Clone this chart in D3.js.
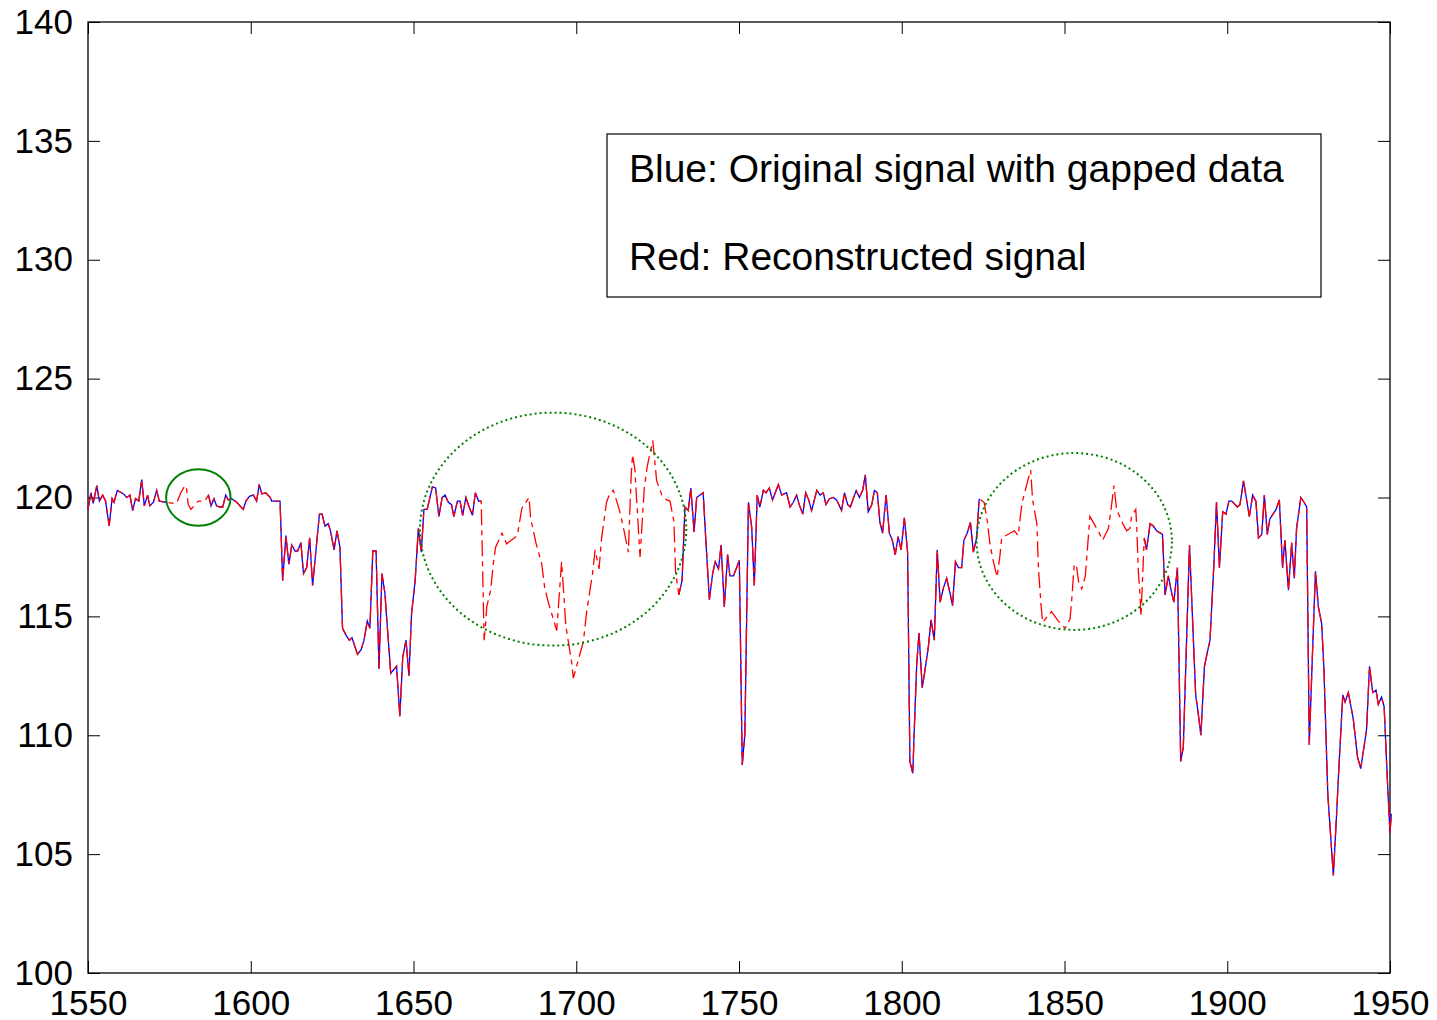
<!DOCTYPE html>
<html lang="en">
<head>
<meta charset="utf-8">
<title>Gapped signal reconstruction</title>
<script src="https://cdn.jsdelivr.net/npm/d3@7"></script>
<style>
    body { margin: 0; background: #fff; }
    text { font-family: "Liberation Sans", Arial, sans-serif; fill: #000; }
    .tick text { font-size: 35px; }
    .legend text { font-size: 39px; }
</style>
</head>
<body>
<script>

// original signal, null marks the gapped stretches
var obsYears = [
    1550.0, 1550.9, 1551.6, 1552.7, 1553.5, 1554.5, 1555.4, 1556.5, 1557.4, 1558.0,
    1559.0, 1560.9, 1561.9, 1562.9, 1563.7, 1564.6, 1565.6, 1566.5, 1567.3, 1568.3,
    1569.0, 1570.1, 1571.1, 1571.9, 1574.0, 1580.0,
    1587.0, 1587.8, 1588.7, 1589.5, 1590.5, 1591.4, 1592.3, 1593.1, 1594.1, 1595.7,
    1597.7, 1598.5, 1599.6, 1600.8, 1601.8, 1602.6, 1603.4, 1604.6, 1606.0, 1606.4,
    1609.0, 1609.8, 1610.8, 1611.7, 1612.6, 1613.6, 1614.4, 1615.4, 1616.2, 1617.2,
    1618.1, 1619.0, 1621.1, 1621.9, 1622.8, 1623.8, 1624.5, 1625.6, 1626.5, 1627.4,
    1628.2, 1629.3, 1630.3, 1631.1, 1632.8, 1633.9, 1634.8, 1635.8, 1636.6, 1637.5,
    1638.5, 1639.4, 1640.3, 1641.2, 1643.0, 1644.8, 1645.8, 1646.7, 1647.7, 1648.6,
    1649.4, 1650.5, 1651.5, 1652.4, 1653.2, 1654.2, 1655.8, 1656.8, 1657.8, 1658.8,
    1659.7, 1660.7, 1661.7, 1662.4, 1663.5, 1664.3, 1665.1, 1666.1, 1667.1, 1668.1,
    1669.0, 1670.0, 1670.8, 1700.0,
    1731.5, 1732.5, 1733.4, 1734.4, 1735.2, 1736.2, 1737.0, 1739.0, 1739.6, 1740.9,
    1741.9, 1742.7, 1743.7, 1744.5, 1745.5, 1746.5, 1747.2, 1748.3, 1750.1, 1751.0,
    1751.8, 1752.9, 1753.9, 1754.7, 1755.6, 1756.4, 1757.5, 1758.3, 1759.3, 1760.3,
    1762.1, 1763.1, 1764.6, 1765.7, 1766.7, 1767.7, 1768.5, 1769.6, 1770.5, 1771.4,
    1772.3, 1773.9, 1774.9, 1775.9, 1776.7, 1777.8, 1779.0, 1780.0, 1781.5, 1782.4,
    1783.4, 1784.2, 1786.0, 1787.0, 1788.0, 1788.8, 1789.7, 1790.8, 1791.6, 1792.5,
    1793.3, 1794.1, 1795.2, 1796.2, 1797.1, 1798.0, 1798.9, 1799.8, 1800.8, 1801.8,
    1802.5, 1803.4, 1803.8, 1804.6, 1805.3, 1806.3, 1807.1, 1808.2, 1809.0, 1810.0,
    1810.9, 1811.8, 1812.8, 1813.8, 1814.8, 1815.6, 1816.5, 1817.4, 1818.4, 1819.1,
    1820.1, 1821.1, 1822.0, 1823.0, 1823.8, 1850.0,
    1874.5, 1875.2, 1876.3, 1877.3, 1878.3, 1880.1, 1880.9, 1881.9, 1882.9, 1883.6,
    1884.7, 1885.7, 1886.5, 1888.4, 1890.3, 1891.1, 1891.9, 1893.0, 1893.9, 1894.7,
    1895.9, 1896.7, 1897.6, 1898.6, 1899.6, 1900.5, 1901.4, 1903.1, 1903.9, 1905.0,
    1906.8, 1907.8, 1908.8, 1909.6, 1910.6, 1911.4, 1912.3, 1913.1, 1915.0, 1916.0,
    1917.0, 1917.7, 1918.8, 1919.8, 1920.6, 1921.3, 1922.6, 1923.6, 1924.4, 1925.2,
    1926.2, 1927.1, 1928.0, 1929.0, 1929.7, 1930.9, 1932.6, 1933.6, 1934.4, 1935.5,
    1936.2, 1937.2, 1938.7, 1940.0, 1941.0, 1942.0, 1942.8, 1943.7, 1944.7, 1945.7,
    1946.4, 1947.4, 1948.2, 1949.2, 1950.0, 1950.4
];
var obsValues = [
    119.5, 120.2, 119.75, 120.5, 119.85, 120.1, 119.85, 118.8, 119.95, 119.8,
    120.3, 120.15, 120.0, 120.1, 119.45, 119.95, 119.85, 120.75, 119.65, 120.1,
    119.65, 119.8, 120.3, 119.85, 119.8, null,
    120.1, 119.65, 119.95, 119.65, 119.6, 119.6, 120.1, 119.9, 119.95, 119.8,
    119.5, 119.85, 120.05, 120.1, 119.85, 120.55, 120.15, 120.2, 120.0, 119.85,
    119.85, 116.5, 118.4, 117.2, 118.0, 117.75, 117.75, 118.1, 116.8, 117.05,
    118.3, 116.3, 119.3, 119.3, 118.8, 118.9, 118.6, 117.8, 118.6, 117.9,
    114.5, 114.2, 114.0, 114.1, 113.4, 113.6, 114.0, 114.8, 114.5, 117.75,
    117.75, 112.8, 116.8, 116.0, 112.6, 112.9, 110.8, 113.3, 114.0, 112.5,
    115.1, 116.5, 118.7, 117.7, 119.5, 119.5, 120.45, 120.4, 119.2, 120.0,
    120.1, 119.8, 119.7, 119.2, 119.85, 119.85, 119.25, 120.0, 119.6, 119.25,
    120.2, 119.85, 119.85, null,
    115.9, 116.5, 119.6, 119.45, 120.4, 118.55, 120.0, 120.2, 118.7, 115.7,
    116.8, 117.3, 117.0, 118.0, 115.4, 117.6, 116.7, 116.7, 117.35, 108.75,
    110.05, 119.8, 118.75, 116.3, 120.1, 119.6, 120.3, 120.2, 120.4, 119.9,
    120.55, 120.1, 120.2, 119.6, 119.8, 120.1, 119.7, 119.3, 120.2, 119.9,
    119.45, 120.3, 120.1, 120.2, 119.7, 119.95, 120.0, 119.9, 119.45, 120.2,
    119.7, 119.6, 120.3, 120.0, 120.3, 120.95, 119.4, 119.7, 120.3, 120.2,
    118.95, 118.5, 120.1, 118.5, 118.2, 117.6, 118.35, 117.8, 119.15, 117.7,
    108.9, 108.4, 110.05, 113.0, 114.3, 112.0, 112.7, 113.75, 114.85, 114.0,
    117.8, 115.6, 116.2, 116.6, 116.0, 115.45, 117.3, 117.05, 117.05, 118.2,
    118.5, 118.95, 117.7, 118.3, 119.95, null,
    118.3, 117.8, 118.9, 118.8, 118.6, 118.45, 115.9, 116.7, 116.0, 115.6,
    117.05, 108.9, 109.5, 118.0, 111.7, 110.9, 110.0, 112.9, 113.5, 114.0,
    117.2, 119.8, 117.05, 119.4, 119.3, 119.85, 119.85, 119.6, 119.7, 120.7,
    119.2, 120.1, 119.85, 118.3, 118.45, 120.1, 118.45, 119.1, 119.5, 119.9,
    117.05, 118.2, 116.1, 118.1, 116.6, 118.7, 120.0, 119.8, 119.6, 109.6,
    113.5, 116.9, 115.4, 114.7, 112.8, 107.5, 104.1, 106.7, 108.9, 111.7,
    111.4, 111.8, 110.7, 109.1, 108.6, 109.5, 110.25, 112.9, 111.8, 111.9,
    111.3, 111.6, 111.2, 108.1, 105.9, 106.7
];

// reconstruction inside the gaps
var gapYears = [
    1576.5, 1577.2, 1578.5, 1579.8, 1580.2, 1580.8, 1581.6, 1583.9, 1585.9,
    1671.7, 1672.1, 1672.5, 1673.7, 1674.5, 1675.2, 1677.2, 1678.6, 1681.9, 1683.3,
    1685.5, 1686.0, 1686.6, 1687.6, 1689.4, 1690.3, 1691.4, 1694.0, 1695.5, 1695.9,
    1696.8, 1698.6, 1699.1, 1700.9, 1702.2, 1703.2, 1705.0, 1705.8, 1707.0, 1707.8,
    1709.3, 1710.4, 1711.4, 1713.2, 1714.7, 1716.0, 1716.9, 1717.3, 1718.0, 1718.6,
    1719.6, 1720.9, 1721.8, 1723.5, 1724.7, 1726.3, 1727.8, 1728.8, 1730.0, 1730.5,
    1825.3, 1826.3, 1827.1, 1828.0, 1828.5, 1829.3, 1830.2, 1830.7, 1834.6, 1835.8,
    1836.3, 1837.0, 1838.7, 1839.6, 1840.2, 1841.5, 1842.0, 1842.8, 1843.3, 1846.0,
    1848.1, 1850.2, 1851.7, 1852.2, 1853.0, 1853.7, 1854.4, 1855.3, 1856.4, 1856.8,
    1857.3, 1857.8, 1860.7, 1861.7, 1863.5, 1864.2, 1865.2, 1866.0, 1867.9, 1869.1,
    1870.1, 1870.6, 1871.9, 1872.2, 1872.7, 1873.2, 1873.5
];
var gapValues = [
    119.75, 119.75, 120.2, 120.5, 120.45, 119.7, 119.5, 119.85, 119.85,
    114.0, 114.6, 115.4, 116.1, 117.2, 117.9, 118.5, 118.05, 118.4, 119.55,
    120.0, 119.1, 118.75, 118.1, 117.2, 116.2, 115.6, 114.4, 117.3, 116.5,
    114.6, 113.05, 112.4, 113.3, 113.95, 115.2, 116.8, 117.8, 117.0, 118.3,
    119.8, 120.2, 120.3, 119.5, 118.6, 117.7, 121.0, 121.8, 121.2, 119.8,
    117.5, 120.4, 121.3, 122.4, 120.7, 120.1, 119.9, 119.85, 119.0, 116.9,
    119.8, 119.0, 118.05, 117.4, 117.1, 116.65, 117.6, 118.3, 118.6, 118.4,
    119.05, 119.8, 120.7, 121.15, 119.9, 118.9, 117.0, 115.45, 114.75, 115.2,
    114.8, 114.5, 114.9, 115.65, 117.2, 117.1, 116.4, 116.15, 116.7, 117.4,
    118.3, 119.2, 118.5, 118.2, 118.7, 119.4, 120.5, 119.5, 118.9, 118.6,
    118.7, 119.2, 119.5, 118.75, 116.85, 115.9, 115.0
];

var xTicks = [1550, 1600, 1650, 1700, 1750, 1800, 1850, 1900, 1950];
var yTicks = [100, 105, 110, 115, 120, 125, 130, 135, 140];

// circled gaps: centre year, centre value, half width (years), half height (values)
var markYears = [1583.9, 1692.9, 1853.0];
var markValues = [120.0, 118.67, 118.15];
var markRx = [9.9, 40.9, 30.0];
var markRy = [1.19, 4.9, 3.72];

var legendLines = ["Blue: Original signal with gapped data", "Red: Reconstructed signal"];

var W = 1437, H = 1020;
var plotL = 88, plotR = 1390, plotT = 22, plotB = 973;

var svg = d3.select("body").append("svg")
    .attr("width", W)
    .attr("height", H);

var x = d3.scaleLinear().domain([1550, 1950]).range([plotL, plotR]);
var y = d3.scaleLinear().domain([100, 140]).range([plotB, plotT]);

var observed = obsYears.map(function (d, i) { return {x: d, y: obsValues[i]}; });
var rebuilt = observed.filter(function (d) { return d.y !== null; })
    .concat(gapYears.map(function (d, i) { return {x: d, y: gapValues[i]}; }))
    .sort(function (a, b) { return a.x - b.x; });

var line = d3.line()
    .defined(function (d) { return d.y !== null; })
    .x(function (d) { return x(d.x); })
    .y(function (d) { return y(d.y); });

// axes: ticks on all four sides, pointing in
var tick = 12;
var fmt = d3.format("d");
svg.append("g")
    .attr("transform", "translate(0," + plotB + ")")
    .call(d3.axisBottom(x).tickValues(xTicks).tickFormat(fmt).tickSizeInner(-tick).tickSizeOuter(0).tickPadding(17));
svg.append("g")
    .attr("transform", "translate(" + plotL + ",0)")
    .call(d3.axisLeft(y).tickValues(yTicks).tickFormat(fmt).tickSizeInner(-tick).tickSizeOuter(0).tickPadding(15));
svg.append("g")
    .attr("transform", "translate(0," + plotT + ")")
    .call(d3.axisTop(x).tickValues(xTicks).tickSizeInner(-tick).tickSizeOuter(0).tickFormat(""));
svg.append("g")
    .attr("transform", "translate(" + plotR + ",0)")
    .call(d3.axisRight(y).tickValues(yTicks).tickSizeInner(-tick).tickSizeOuter(0).tickFormat(""));

svg.selectAll(".domain").remove();
svg.selectAll(".tick line").attr("stroke", "#000");
svg.selectAll("g").filter(function () { return this.getAttribute("font-size"); })
    .attr("font-family", null).attr("font-size", null);

svg.append("rect")
    .attr("x", plotL).attr("y", plotT)
    .attr("width", plotR - plotL).attr("height", plotB - plotT)
    .attr("fill", "none")
    .attr("stroke", "#000")
    .attr("stroke-width", 1.3);

svg.append("path")
    .datum(observed)
    .attr("fill", "none")
    .attr("stroke", "#0000ff")
    .attr("stroke-width", 1.3)
    .attr("d", line);

svg.append("path")
    .datum(rebuilt)
    .attr("fill", "none")
    .attr("stroke", "#ff0000")
    .attr("stroke-width", 1.3)
    .attr("stroke-dasharray", "16,5,5,5")
    .attr("d", line);

// green marks round the gaps
svg.selectAll("ellipse.mark")
    .data(markYears)
    .enter()
    .append("ellipse")
    .attr("class", "mark")
    .attr("cx", function (d) { return x(d); })
    .attr("cy", function (d, i) { return y(markValues[i]); })
    .attr("rx", function (d, i) { return x(d + markRx[i]) - x(d); })
    .attr("ry", function (d, i) { return y(markValues[i] - markRy[i]) - y(markValues[i]); })
    .attr("fill", "none")
    .attr("stroke", "#007f00")
    .attr("stroke-width", 2)
    .attr("stroke-dasharray", function (d, i) { return i === 0 ? null : "2,3"; });

// legend box
var legend = svg.append("g").attr("class", "legend");
legend.append("rect")
    .attr("x", 607).attr("y", 134)
    .attr("width", 714).attr("height", 163)
    .attr("fill", "#fff")
    .attr("stroke", "#000")
    .attr("stroke-width", 1.2);
legend.selectAll("text")
    .data(legendLines)
    .enter()
    .append("text")
    .attr("x", 629)
    .attr("y", function (d, i) { return 182 + i * 88; })
    .text(function (d) { return d; });

</script>
</body>
</html>
